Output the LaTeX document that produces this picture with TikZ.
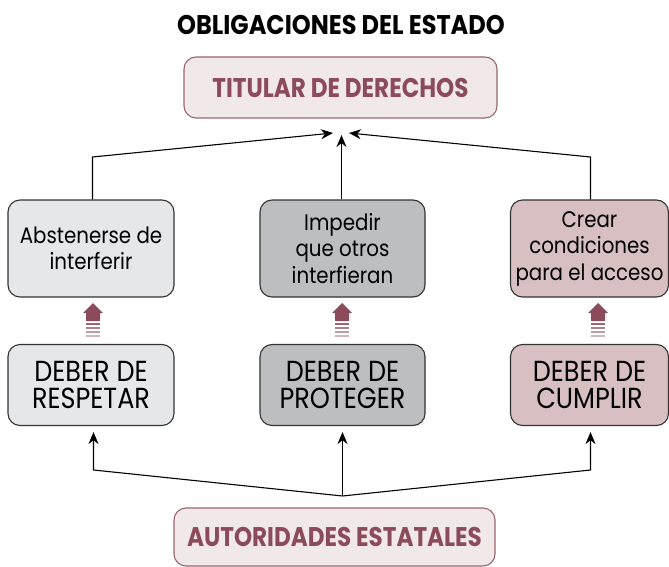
\documentclass[tikz,border=0pt]{standalone}
\usepackage{fontspec}
\usetikzlibrary{arrows.meta}
\newfontfamily\boxfont{Poppins}[FakeStretch=0.88]
\newfontfamily\headfont{Poppins}[FakeStretch=0.855]
\newfontfamily\titlefont{Poppins}[FakeStretch=0.89]
\definecolor{wine}{HTML}{8C4B5A}
\definecolor{wineborder}{HTML}{9B6670}
\definecolor{pinkpale}{HTML}{F1E8E9}
\definecolor{lightgray}{HTML}{E6E7E8}
\definecolor{midgray}{HTML}{BCBEC0}
\definecolor{pinkfill}{HTML}{D7BFC2}
\definecolor{edge}{HTML}{333333}
\tikzset{
  card/.style={draw=edge, line width=1.1pt, rounded corners=12pt, align=center, inner sep=0pt, text=black},
  actbox/.style={card, minimum height=97pt, font=\boxfont\fontsize{22.5}{26.5}\selectfont},
  dutybox/.style={card, minimum height=81pt, font=\boxfont\fontsize{29}{27}\selectfont},
  headbox/.style={draw=wineborder, fill=pinkpale, line width=1.1pt, rounded corners=12pt, inner sep=0pt, text=wine, font=\headfont\bfseries\fontsize{27}{30}\selectfont},
  conn/.style={draw=black, line width=1.1pt},
  tip/.style={-{Stealth[length=12pt,width=10pt]}},
  uparrow/.pic={
    \fill[wine] (-10,10) -- (0,0) -- (10,10) -- (7,10) -- (7,18) -- (-7,18) -- (-7,10) -- cycle;
    \fill[wine!85] (-7,20) rectangle (7,22);
    \fill[wine!70] (-7,24) rectangle (7,26);
    \fill[wine!55] (-7,28) rectangle (7,30);
    \fill[wine!40] (-7,32) rectangle (7,34);
  }
}
\begin{document}
\begin{tikzpicture}[x=1pt,y=-1pt]
\useasboundingbox (0,0) rectangle (669,567);

\node[font=\titlefont\bfseries\fontsize{27}{30}\selectfont] (title) at (341,25) {OBLIGACIONES DEL ESTADO};

\node[headbox, minimum width=313pt, minimum height=61pt] (titular) at (340.5,87.5) {TITULAR DE DERECHOS};

\node[actbox, fill=lightgray, minimum width=166pt] (a1) at (91,248.5) {Abstenerse de\\interferir};
\node[actbox, fill=midgray, minimum width=165pt] (a2) at (342.5,248.5) {Impedir\\que otros\\interfieran};
\node[actbox, fill=pinkfill, minimum width=158pt] (a3) at (589.5,248.5) {Crear\\condiciones\\para el acceso};

\node[dutybox, fill=lightgray, minimum width=166pt] (d1) at (91,385) {DEBER DE\\RESPETAR};
\node[dutybox, fill=midgray, minimum width=165pt] (d2) at (342.5,385) {DEBER DE\\PROTEGER};
\node[dutybox, fill=pinkfill, minimum width=158pt] (d3) at (589.5,385) {DEBER DE\\CUMPLIR};

\node[headbox, minimum width=321pt, minimum height=58pt] (auth) at (334.5,537) {AUTORIDADES ESTATALES};

\pic at (93,303) {uparrow};
\pic at (342,303) {uparrow};
\pic at (598,303) {uparrow};

% top connectors
\coordinate (tipL) at (333,133);
\coordinate (tipR) at (349,133);
\coordinate (tipM) at (341.5,135);
\coordinate (cornL) at (92.5,157);
\coordinate (cornR) at (590.5,157);
\draw[conn, tip] (a1.north -| cornL) -- (cornL) -- (tipL);
\draw[conn, tip] (a3.north -| cornR) -- (cornR) -- (tipR);
\draw[conn, tip] (a2.north -| tipM) -- (tipM);

% bottom connectors
\coordinate (hub) at (342.5,496);
\coordinate (bL) at (93.5,470);
\coordinate (bR) at (590.5,470);
\draw[conn, tip] (hub) -- (bL) -- ([yshift=-6pt]d1.south -| bL);
\draw[conn, tip] (hub) -- (bR) -- ([yshift=-6pt]d3.south -| bR);
\draw[conn, tip] (hub) -- ([yshift=-6pt]d2.south -| hub);
\end{tikzpicture}
\end{document}
